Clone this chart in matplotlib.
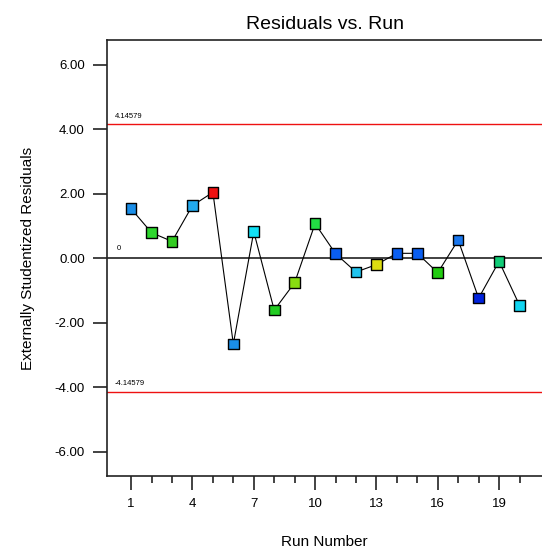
import matplotlib
matplotlib.use("Agg")
import matplotlib.pyplot as plt
from matplotlib.ticker import FixedLocator

plt.rcParams['font.family'] = ['Liberation Sans', 'DejaVu Sans']

runs = list(range(1, 21))
residuals = [1.53, 0.79, 0.52, 1.63, 2.04, -2.66, 0.82, -1.61, -0.76, 1.07,
             0.14, -0.43, -0.20, 0.15, 0.15, -0.45, 0.56, -1.24, -0.10, -1.46]
colors = ['#1a8ee8', '#2ed62e', '#33cc22', '#22aaee', '#ee1111', '#1a8ee8', '#11e0f5',
          '#22cc22', '#88dd11', '#22dd44', '#0a5ef0', '#22c4ee', '#dddd11', '#0a5ef0',
          '#0a5ef0', '#22cc11', '#1a77ee', '#0022dd', '#11cc77', '#11d4f0']
limit = 4.14579
yticks = [-6, -4, -2, 0, 2, 4, 6]
xticks = [1, 4, 7, 10, 13, 16, 19]

fig = plt.figure(figsize=(5.42, 5.53), dpi=100)
ax = fig.add_axes([107/542, 1-476/553, 1-107/542, (476-40)/553])

ax.set_xlim(-0.18, 21.1)
ax.set_ylim(-6.75, 6.76)

ax.axhline(limit, color='#ee1111', lw=1.0, zorder=1)
ax.axhline(-limit, color='#ee1111', lw=1.0, zorder=1)
ax.axhline(0, color='#333333', lw=1.3, zorder=1)

ax.plot(runs, residuals, color='black', lw=0.8, zorder=2)
ax.scatter(runs, residuals, marker='s', s=58, c=colors, edgecolors='black',
           linewidths=1.0, zorder=3)

ax.text(0.2, limit + 0.15, f"{limit:.5f}", fontsize=5.5, va='bottom', ha='left')
ax.text(0.2, -limit + 0.15, f"{-limit:.5f}", fontsize=5.5, va='bottom', ha='left')
ax.text(0.3, 0.2, "0", fontsize=5.5, va='bottom', ha='left')

ax.yaxis.set_major_locator(FixedLocator(yticks))
ax.set_yticklabels([f"{v:.2f}" for v in yticks], fontsize=9.5)
ax.xaxis.set_major_locator(FixedLocator(xticks))
ax.xaxis.set_minor_locator(FixedLocator(runs))
ax.set_xticklabels([str(v) for v in xticks], fontsize=9.5)
ax.tick_params(axis='both', which='major', direction='out', length=10, width=1.2, color='#222222', pad=6)
ax.tick_params(axis='x', which='minor', direction='out', length=5, width=1.2, color='#222222')

for s in ['left', 'bottom', 'top']:
    ax.spines[s].set_linewidth(1.2)
    ax.spines[s].set_color('#222222')
ax.spines['right'].set_visible(False)

ax.set_title("Residuals vs. Run", fontsize=14, pad=8)
ax.set_xlabel("Run Number", fontsize=11, labelpad=18)
ax.set_ylabel("Externally Studentized Residuals", fontsize=11, labelpad=14)

fig.savefig("out.png", dpi=100)
